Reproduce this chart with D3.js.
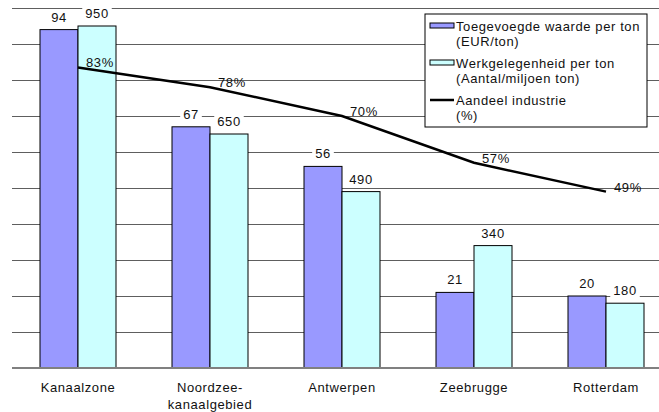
<!DOCTYPE html>
<html>
<head>
<meta charset="utf-8">
<script src="https://cdn.jsdelivr.net/npm/d3@7"></script>
<style>
  body { margin: 0; background: #fff; }
  text { font-family: "Liberation Sans", Arial, sans-serif; font-size: 13px; letter-spacing: 0.6px; fill: #111; }
</style>
</head>
<body>
<div id="chart"></div>
<script>
// data
const regions = ["Kanaalzone", "Noordzee-\nkanaalgebied", "Antwerpen", "Zeebrugge", "Rotterdam"];
const waarde = [94, 67, 56, 21, 20];            // EUR/ton
const werk = [950, 650, 490, 340, 180];         // aantal/miljoen ton
const aandeel = [83.5, 78, 70, 57, 49];         // %
const aandeelLabels = ["83%", "78%", "70%", "57%", "49%"];
const legendItems = [
    {kind: "bar", color: "#9999ff", lines: ["Toegevoegde waarde per ton", "(EUR/ton)"]},
    {kind: "bar", color: "#ccffff", lines: ["Werkgelegenheid per ton", "(Aantal/miljoen ton)"]},
    {kind: "line", color: "#000", lines: ["Aandeel industrie", "(%)"]}
];

const width = 659, height = 412;
const margin = {top: 8, left: 12, bottom: 44};
const plotBottom = height - margin.bottom;

const svg = d3.select("#chart").append("svg")
    .attr("width", width)
    .attr("height", height);

const x = d3.scaleBand()
    .domain(d3.range(regions.length))
    .range([margin.left, margin.left + 660])
    .paddingInner(56 / 132)
    .paddingOuter(28 / 132);
const inner = d3.scaleBand().domain(["w", "e"]).range([0, x.bandwidth()]);

const y = d3.scaleLinear().domain([0, 100]).range([plotBottom, margin.top]);
const y2 = d3.scaleLinear().domain([0, 1000]).range([plotBottom, margin.top]);

// gridlines
svg.append("g")
    .selectAll("line")
    .data(y.ticks(10).filter(d => d > 0))
    .join("line")
    .attr("x1", margin.left).attr("x2", width)
    .attr("y1", d => y(d) + 0.5).attr("y2", d => y(d) + 0.5)
    .attr("stroke", "#5e5e5e")
    .attr("stroke-width", 1);

// bars
const g = svg.append("g")
    .selectAll("g")
    .data(regions)
    .join("g")
    .attr("transform", (d, i) => `translate(${x(i)},0)`);

g.append("rect")
    .attr("x", 0)
    .attr("y", (d, i) => y(waarde[i]))
    .attr("width", inner.bandwidth())
    .attr("height", (d, i) => plotBottom - y(waarde[i]))
    .attr("fill", "#9999ff")
    .attr("stroke", "#000")
    .attr("stroke-width", 1);

g.append("rect")
    .attr("x", inner("e"))
    .attr("y", (d, i) => y2(werk[i]))
    .attr("width", inner.bandwidth())
    .attr("height", (d, i) => plotBottom - y2(werk[i]))
    .attr("fill", "#ccffff")
    .attr("stroke", "#000")
    .attr("stroke-width", 1);

// baseline
svg.append("line")
    .attr("x1", margin.left).attr("x2", width)
    .attr("y1", plotBottom).attr("y2", plotBottom)
    .attr("stroke", "#808080")
    .attr("stroke-width", 2);

// label with white box behind it
function boxedText(parent, tx, ty, str, anchor) {
    const t = parent.append("text")
        .attr("x", tx).attr("y", ty)
        .attr("text-anchor", anchor)
        .text(str);
    const b = t.node().getBBox();
    parent.insert("rect", "text")
        .attr("x", b.x - 3).attr("y", b.y)
        .attr("width", b.width + 6).attr("height", b.height)
        .attr("fill", "#fff");
}

const labels = svg.append("g");
regions.forEach((r, i) => {
    const lg1 = labels.append("g");
    boxedText(lg1, x(i) + inner.bandwidth() / 2, y(waarde[i]) - 8, waarde[i], "middle");
    const lg2 = labels.append("g");
    boxedText(lg2, x(i) + inner("e") + inner.bandwidth() / 2, y2(werk[i]) - 8, werk[i], "middle");
});

// line for aandeel industrie
const cx = i => x(i) + x.bandwidth() / 2;
svg.append("path")
    .datum(aandeel)
    .attr("fill", "none")
    .attr("stroke", "#000")
    .attr("stroke-width", 2.5)
    .attr("d", d3.line().x((d, i) => cx(i)).y(d => y(d)));

// percentage labels, no background
svg.append("g")
    .selectAll("text")
    .data(aandeelLabels)
    .join("text")
    .attr("x", (d, i) => cx(i) + 8)
    .attr("y", (d, i) => y(aandeel[i]))
    .text(d => d);

// category labels
const xl = svg.append("g");
regions.forEach((r, i) => {
    r.split("\n").forEach((part, j) => {
        xl.append("text")
            .attr("x", cx(i))
            .attr("y", plotBottom + 24 + j * 17)
            .attr("text-anchor", "middle")
            .text(part);
    });
});

// legend
const legend = svg.append("g").attr("transform", "translate(425,14)");
legend.append("rect")
    .attr("width", 222).attr("height", 113)
    .attr("fill", "#fff")
    .attr("stroke", "#000")
    .attr("stroke-width", 1);

legendItems.forEach((it, k) => {
    const row = legend.append("g").attr("transform", `translate(0,${8 + k * 37})`);
    if (it.kind === "bar") {
        row.append("rect")
            .attr("x", 5).attr("y", 1)
            .attr("width", 24).attr("height", 5)
            .attr("fill", it.color)
            .attr("stroke", "#000");
    } else {
        row.append("line")
            .attr("x1", 5).attr("x2", 29)
            .attr("y1", 4).attr("y2", 4)
            .attr("stroke", it.color)
            .attr("stroke-width", 2.5);
    }
    it.lines.forEach((ln, j) => {
        row.append("text")
            .attr("x", 31)
            .attr("y", 9 + j * 15)
            .text(ln);
    });
});
</script>
</body>
</html>
